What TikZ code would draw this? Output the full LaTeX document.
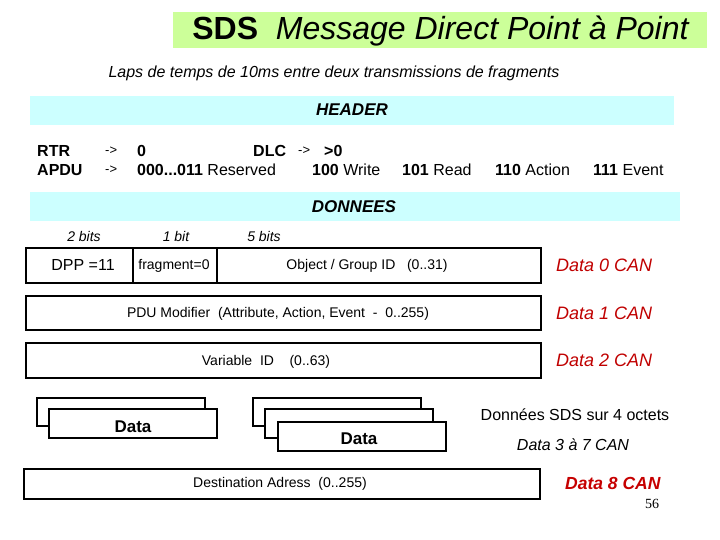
\documentclass[tikz,border=0pt]{standalone}
\usepackage{fontspec}
\setmainfont{Liberation Sans}
\newfontfamily\serifnum{Liberation Serif}
\newcommand\fsz[1]{\fontsize{#1}{#1}\selectfont}
\definecolor{titlegreen}{HTML}{CCFF99}
\definecolor{barcyan}{HTML}{CCFFFF}
\definecolor{canred}{HTML}{C00000}
\begin{document}
\begin{tikzpicture}[x=1pt,y=-1pt,
  bar/.style={fill=barcyan,draw=none,inner sep=0pt,font=\fsz{17}\bfseries\itshape},
  fbox/.style={draw=black,line width=1.8pt,fill=white,inner sep=0pt,anchor=north west},
  dbox/.style={draw=black,line width=1.8pt,fill=white,inner sep=0pt,anchor=north west,minimum width=168pt,minimum height=29pt},
  hdr/.style={anchor=west,inner sep=0pt,font=\fsz{16}},
  arr/.style={anchor=west,inner sep=0pt,font=\fsz{13}},
  bits/.style={inner sep=0pt,font=\fsz{14}\itshape},
  can/.style={anchor=west,inner sep=0pt,text=canred,font=\fsz{18}\itshape},
  lbl/.style={inner sep=0pt,font=\fsz{14}}]
\useasboundingbox (0,0) rectangle (720,540);
% title
\node[fill=titlegreen,inner sep=0pt,minimum width=534pt,minimum height=36pt,anchor=north west] (title) at (173,12) {};
\node[inner sep=0pt,font=\fsz{32}] (titletext) at (441,31) {\textbf{SDS}\ \ \textit{Message Direct Point à Point}};
\node[inner sep=0pt,font=\fsz{16}\itshape] (sub) at (334,73) {Laps de temps de 10ms entre deux transmissions de fragments};
% header
\node[bar,minimum width=644pt,minimum height=29pt,anchor=north west] (header) at (30,96) {};
\node[inner sep=0pt,font=\fsz{17}\bfseries\itshape] (headertext) at (352,110) {HEADER};
\node[hdr,font=\fsz{16}\bfseries] (rtr) at (37,151) {RTR};
\node[arr] (rtra) at (105,151) {->};
\node[hdr,font=\fsz{16}\bfseries] (rtrv) at (137,151) {0};
\node[hdr,font=\fsz{16}\bfseries] (dlc) at (253,151) {DLC};
\node[arr] (dlca) at (298,151) {->};
\node[hdr,font=\fsz{16}\bfseries] (dlcv) at (324,151) {>0};
\node[hdr,font=\fsz{16}\bfseries] (apdu) at (37,170) {APDU};
\node[arr] (apdua) at (105,170) {->};
\node[hdr] (a1) at (137,170) {\textbf{000...011} Reserved};
\node[hdr] (a2) at (312,170) {\textbf{100} Write};
\node[hdr] (a3) at (402,170) {\textbf{101} Read};
\node[hdr] (a4) at (495,170) {\textbf{110} Action};
\node[hdr] (a5) at (593,170) {\textbf{111} Event};
% donnees
\node[bar,minimum width=650pt,minimum height=29pt,anchor=north west] (donnees) at (30,192) {};
\node[inner sep=0pt,font=\fsz{17}\bfseries\itshape] (donneestext) at (354,207) {DONNEES};
\node[bits] (b2) at (84,236) {2 bits};
\node[bits] (b1) at (176,236) {1 bit};
\node[bits] (b5) at (264,236) {5 bits};
% row 1
\node[fbox,minimum width=107pt,minimum height=35pt] (dpp) at (25,247) {};
\node[fbox,minimum width=84pt,minimum height=35pt] (frag) at (132,247) {};
\node[fbox,minimum width=324pt,minimum height=35pt] (obj) at (216,247) {};
\node[lbl,font=\fsz{16}] (dpptext) at (83,265) {DPP =11};
\node[lbl] (fragtext) at (174,266) {fragment=0};
\node[lbl] (objtext) at (367,266) {Object / Group ID\ \ \ (0..31)};
\node[can] (can0) at (556,265) {Data 0 CAN};
% row 2
\node[fbox,minimum width=515pt,minimum height=34pt] (pdu) at (25,295) {};
\node[lbl] (pdutext) at (278,314) {PDU Modifier\ \ (Attribute, Action, Event\ \ -\ \ 0..255)};
\node[can] (can1) at (556,313) {Data 1 CAN};
% row 3
\node[fbox,minimum width=515pt,minimum height=35pt] (var) at (25,342) {};
\node[lbl] (vartext) at (266,362) {Variable\ \ ID\ \ \ \ (0..63)};
\node[can] (can2) at (556,360) {Data 2 CAN};
% data group 1
\node[dbox,minimum height=28pt] (d1b) at (36,397) {};
\node[dbox] (d1f) at (48,408) {};
\node[inner sep=0pt,font=\fsz{17}\bfseries] (d1t) at (133,427) {Data};
% data group 2
\node[dbox,minimum height=28pt] (d2b) at (252,397) {};
\node[dbox] (d2m) at (264,408) {};
\node[dbox] (d2f) at (277,421) {};
\node[inner sep=0pt,font=\fsz{17}\bfseries] (d2t) at (359,439) {Data};
\node[inner sep=0pt,font=\fsz{16}] (sds) at (575,415) {Données SDS sur 4 octets};
\node[inner sep=0pt,font=\fsz{16}\itshape] (can37) at (573,445) {Data 3 à 7 CAN};
% destination
\node[fbox,minimum width=516pt,minimum height=30pt] (dest) at (23,468) {};
\node[lbl] (desttext) at (280,484) {Destination Adress\ \ (0..255)};
\node[can,font=\fsz{17.5}\bfseries\itshape,text=canred!90!red] (can8) at (565,483) {Data 8 CAN};
\node[inner sep=0pt,font=\serifnum\fsz{14}] (page) at (652,504) {56};
\end{tikzpicture}
\end{document}
